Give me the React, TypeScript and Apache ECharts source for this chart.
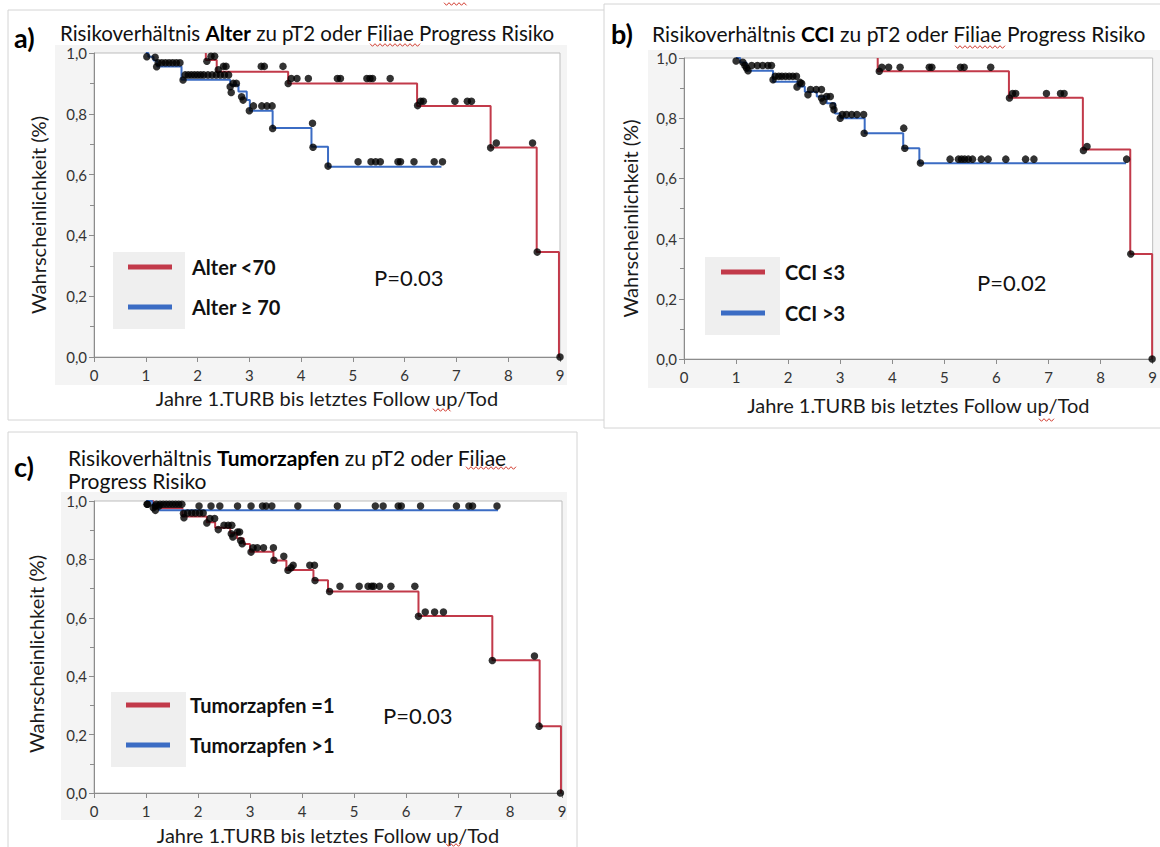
import React, { useEffect, useRef } from "react";
import * as echarts from "echarts";

// ---------- data ----------
// Panel a: Alter
const aRedTimes = [2.16, 2.16, 2.37, 3.75, 6.24, 7.66, 8.55, 8.98];
const aRedSurv = [1.0, 0.977, 0.938, 0.9, 0.826, 0.689, 0.345, 0.0];
const aBlueTimes = [1.0, 1.05, 1.15, 1.22, 1.69, 2.63, 2.79, 2.95, 3.01, 3.45, 4.2, 4.52, 6.71];
const aBlueSurv = [1.0, 0.988, 0.975, 0.956, 0.912, 0.895, 0.873, 0.845, 0.81, 0.753, 0.692, 0.626, 0.626];
const aRedCensT = [2.18, 2.26, 2.33, 2.4, 2.5, 2.55, 3.23, 3.29, 3.65, 3.75, 3.81, 3.92, 4.14, 4.7, 4.76, 5.27, 5.33, 5.38, 5.72, 6.25, 6.31, 6.36, 6.97, 7.21, 7.29, 7.66, 7.77, 8.47, 8.56, 9.0];
const aRedCensS = [0.973, 0.989, 0.989, 0.945, 0.956, 0.956, 0.956, 0.956, 0.956, 0.9, 0.916, 0.916, 0.916, 0.916, 0.916, 0.916, 0.916, 0.916, 0.916, 0.827, 0.841, 0.841, 0.841, 0.841, 0.841, 0.688, 0.704, 0.704, 0.345, 0.0];
const aBlueCensT = [1.02, 1.18, 1.21, 1.24, 1.31, 1.38, 1.45, 1.52, 1.59, 1.66, 1.72, 1.76, 1.82, 1.88, 1.94, 2.0, 2.06, 2.12, 2.2, 2.28, 2.36, 2.44, 2.52, 2.6, 2.63, 2.65, 2.69, 2.75, 2.85, 2.88, 3.0, 3.08, 3.24, 3.34, 3.44, 3.45, 4.22, 4.23, 4.52, 5.1, 5.35, 5.44, 5.53, 5.87, 5.92, 6.18, 6.57, 6.73];
const aBlueCensS = [0.988, 0.986, 0.955, 0.968, 0.968, 0.968, 0.968, 0.968, 0.968, 0.968, 0.911, 0.928, 0.928, 0.928, 0.928, 0.928, 0.928, 0.928, 0.928, 0.928, 0.928, 0.928, 0.928, 0.928, 0.889, 0.87, 0.9, 0.9, 0.856, 0.845, 0.81, 0.826, 0.826, 0.826, 0.826, 0.752, 0.769, 0.69, 0.628, 0.642, 0.642, 0.642, 0.642, 0.642, 0.642, 0.642, 0.642, 0.642];

// Panel b: CCI
const bRedTimes = [3.72, 3.72, 6.24, 7.66, 8.57, 8.99];
const bRedSurv = [1.0, 0.956, 0.868, 0.696, 0.349, 0.0];
const bBlueTimes = [1.0, 1.08, 1.2, 1.71, 2.19, 2.32, 2.55, 2.74, 2.9, 3.0, 3.47, 4.21, 4.52, 8.49];
const bBlueSurv = [1.0, 0.985, 0.958, 0.921, 0.905, 0.888, 0.872, 0.85, 0.816, 0.8, 0.75, 0.7, 0.65, 0.65];
const bRedCensT = [3.75, 3.8, 3.93, 4.15, 4.71, 4.76, 5.31, 5.38, 5.89, 6.25, 6.31, 6.37, 6.96, 7.23, 7.3, 7.67, 7.74, 8.58, 8.99];
const bRedCensS = [0.956, 0.969, 0.969, 0.969, 0.969, 0.969, 0.969, 0.969, 0.969, 0.867, 0.882, 0.882, 0.882, 0.882, 0.882, 0.693, 0.706, 0.349, 0.0];
const bBlueCensT = [1.0, 1.13, 1.17, 1.2, 1.23, 1.3, 1.41, 1.51, 1.61, 1.68, 1.71, 1.75, 1.82, 1.88, 1.95, 2.02, 2.09, 2.16, 2.17, 2.23, 2.26, 2.38, 2.43, 2.54, 2.64, 2.64, 2.67, 2.74, 2.81, 2.86, 2.88, 3.0, 3.04, 3.12, 3.22, 3.32, 3.45, 3.46, 4.22, 4.24, 4.54, 5.11, 5.27, 5.33, 5.39, 5.46, 5.54, 5.71, 5.84, 6.18, 6.56, 6.72, 8.5];
const bBlueCensS = [0.99, 0.986, 0.975, 0.967, 0.958, 0.975, 0.975, 0.975, 0.975, 0.975, 0.928, 0.939, 0.939, 0.939, 0.939, 0.939, 0.939, 0.939, 0.904, 0.919, 0.915, 0.878, 0.895, 0.895, 0.895, 0.867, 0.856, 0.872, 0.872, 0.841, 0.828, 0.8, 0.812, 0.812, 0.812, 0.812, 0.812, 0.75, 0.767, 0.7, 0.651, 0.664, 0.664, 0.664, 0.664, 0.664, 0.664, 0.664, 0.664, 0.664, 0.664, 0.664, 0.664];

// Panel c: Tumorzapfen
const cRedTimes = [1.0, 1.14, 1.7, 2.17, 2.33, 2.62, 2.75, 2.88, 3.0, 3.45, 3.7, 4.22, 4.5, 6.24, 7.66, 8.57, 8.98];
const cRedSurv = [1.0, 0.975, 0.947, 0.927, 0.908, 0.89, 0.872, 0.853, 0.826, 0.796, 0.764, 0.729, 0.69, 0.606, 0.455, 0.229, 0.0];
const cBlueTimes = [1.0, 1.12, 1.25, 7.77];
const cBlueSurv = [1.0, 0.985, 0.968, 0.968];
const cRedCensT = [1.03, 1.14, 1.18, 1.2, 1.27, 1.33, 1.39, 1.45, 1.51, 1.57, 1.63, 1.69, 1.73, 1.72, 1.8, 1.88, 1.95, 2.03, 2.1, 2.17, 2.23, 2.32, 2.39, 2.5, 2.58, 2.65, 2.64, 2.67, 2.76, 2.8, 2.82, 2.85, 3.02, 3.06, 3.14, 3.26, 3.45, 3.46, 3.65, 3.73, 3.79, 3.83, 4.15, 4.24, 4.25, 4.53, 4.73, 5.1, 5.27, 5.34, 5.38, 5.49, 5.71, 6.17, 6.24, 6.37, 6.55, 6.72, 7.66, 8.47, 8.56, 8.97];
const cRedCensS = [0.989, 0.977, 0.968, 0.989, 0.989, 0.989, 0.989, 0.989, 0.989, 0.989, 0.989, 0.989, 0.943, 0.957, 0.959, 0.959, 0.959, 0.959, 0.959, 0.925, 0.94, 0.94, 0.902, 0.917, 0.917, 0.917, 0.888, 0.877, 0.894, 0.894, 0.865, 0.854, 0.825, 0.84, 0.84, 0.84, 0.84, 0.797, 0.811, 0.763, 0.771, 0.78, 0.78, 0.78, 0.728, 0.69, 0.708, 0.708, 0.708, 0.708, 0.708, 0.708, 0.708, 0.708, 0.605, 0.62, 0.62, 0.62, 0.454, 0.469, 0.229, 0.0];
const cBlueCensT = [1.02, 1.18, 1.25, 2.02, 2.25, 2.42, 2.76, 3.02, 3.24, 3.31, 3.42, 3.92, 4.68, 5.41, 5.56, 5.85, 5.91, 6.28, 6.97, 7.21, 7.28, 7.75];
const cBlueCensS = [0.989, 0.983, 0.983, 0.983, 0.983, 0.983, 0.983, 0.983, 0.983, 0.983, 0.983, 0.983, 0.983, 0.983, 0.983, 0.983, 0.983, 0.983, 0.983, 0.983, 0.983, 0.983];

const groupNames = [
  ["Alter <70", "Alter \u2265 70"],
  ["CCI \u22643", "CCI >3"],
  ["Tumorzapfen =1", "Tumorzapfen >1"],
];
const pValues = ["P=0.03", "P=0.02", "P=0.03"];
const panelLetters = ["a)", "b)", "c)"];
const yAxisTitle = "Wahrscheinlichkeit (%)";
const xAxisTitle = "Jahre 1.TURB bis letztes Follow up/Tod";

// ---------- styling / layout ----------
const FONT = "Lato, 'Open Sans', sans-serif";
const RED = "#c23a4a";
const BLUE = "#3b6cc4";
const AXIS = "#8c8c8c";

const zip = (t: number[], s: number[]) => t.map((x, i) => [x, s[i]]);

const layouts = [
  { grid: { left: 94, top: 53, width: 466, height: 304 }, yGap: 46, xGap: 31, yPad: 20,
    legend: { left: 123, top: 251, gap: 18, pad: 15 }, legendBox: [113, 252, 72, 77],
    p: [374, 277], bg: [55, 45, 512, 340], border: [8, 10, 600, 410] },
  { grid: { left: 684, top: 58, width: 469, height: 301 }, yGap: 44, xGap: 36, yPad: 20,
    legend: { left: 716, top: 256, gap: 19, pad: 15 }, legendBox: [705, 257, 75, 78],
    p: [977, 282], bg: [648, 50, 512, 338], border: [604, 4, 560, 424] },
  { grid: { left: 94, top: 501, width: 468, height: 292 }, yGap: 48, xGap: 32, yPad: 14,
    legend: { left: 121, top: 689, gap: 18, pad: 15 }, legendBox: [111, 692, 75, 75],
    p: [383, 715], bg: [61, 492, 506, 328], border: [8, 432, 569, 420] },
];

function squiggle(x0: number, x1: number, y: number) {
  const pts: number[][] = [];
  let up = true;
  for (let x = x0; x <= x1; x += 2.5) {
    pts.push([x, up ? y - 1.3 : y + 1.3]);
    up = !up;
  }
  return {
    type: "polyline",
    z: 20,
    shape: { points: pts },
    style: { stroke: "#d23b2f", lineWidth: 1, fill: null },
  };
}

export default function App() {
  const ref = useRef<HTMLDivElement>(null);

  useEffect(() => {
    if (!ref.current) return;
    const chart = echarts.init(ref.current, null, { renderer: "svg" });

    const kmSets = [
      { red: zip(aRedTimes, aRedSurv), blue: zip(aBlueTimes, aBlueSurv), rc: zip(aRedCensT, aRedCensS), bc: zip(aBlueCensT, aBlueCensS) },
      { red: zip(bRedTimes, bRedSurv), blue: zip(bBlueTimes, bBlueSurv), rc: zip(bRedCensT, bRedCensS), bc: zip(bBlueCensT, bBlueCensS) },
      { red: zip(cRedTimes, cRedSurv), blue: zip(cBlueTimes, cBlueSurv), rc: zip(cRedCensT, cRedCensS), bc: zip(cBlueCensT, cBlueCensS) },
    ];

    const grids = layouts.map((l) => ({
      ...l.grid,
      show: true,
      backgroundColor: "#ffffff",
      borderColor: "#bdbdbd",
      borderWidth: 1,
      containLabel: false,
    }));

    const xAxes = layouts.map((l, i) => ({
      type: "value",
      gridIndex: i,
      min: 0,
      max: 9,
      interval: 1,
      name: xAxisTitle,
      nameLocation: "middle",
      nameGap: l.xGap,
      nameTextStyle: { fontFamily: FONT, fontSize: 20, color: "#1a1a1a" },
      axisLine: { show: true, lineStyle: { color: AXIS, width: 1 } },
      axisTick: { show: true, length: 5, lineStyle: { color: AXIS } },
      axisLabel: { fontFamily: FONT, fontSize: 15, color: "#333", margin: 10 },
      splitLine: { show: false },
    }));

    const yAxes = layouts.map((l, i) => ({
      type: "value",
      gridIndex: i,
      min: 0,
      max: 1,
      interval: 0.2,
      name: yAxisTitle,
      nameLocation: "middle",
      nameGap: l.yGap,
      nameTextStyle: { fontFamily: FONT, fontSize: 20, color: "#1a1a1a", padding: [0, l.yPad, 0, 0] },
      axisLine: { show: true, lineStyle: { color: AXIS, width: 1 } },
      axisTick: { show: true, length: 5, lineStyle: { color: AXIS } },
      minorTick: { show: true, splitNumber: 2, length: 4, lineStyle: { color: AXIS } },
      axisLabel: {
        fontFamily: FONT,
        fontSize: 15,
        color: "#333",
        margin: 7,
        formatter: (v: number) => v.toFixed(1).replace(".", ","),
      },
      splitLine: { show: false },
    }));

    const series: any[] = [];
    kmSets.forEach((k, i) => {
      series.push({
        type: "line", name: groupNames[i][0], xAxisIndex: i, yAxisIndex: i, data: k.red,
        step: "end", symbol: "none", showSymbol: false, z: 2,
        lineStyle: { color: RED, width: 2 }, itemStyle: { color: RED },
      });
      series.push({
        type: "line", name: groupNames[i][1], xAxisIndex: i, yAxisIndex: i, data: k.blue,
        step: "end", symbol: "none", showSymbol: false, z: 2,
        lineStyle: { color: BLUE, width: 2 }, itemStyle: { color: BLUE },
      });
      series.push({
        type: "scatter", name: "zensiert " + groupNames[i][0], xAxisIndex: i, yAxisIndex: i, data: k.rc,
        symbolSize: 7.5, itemStyle: { color: "#000" }, z: 3,
      });
      series.push({
        type: "scatter", name: "zensiert " + groupNames[i][1], xAxisIndex: i, yAxisIndex: i, data: k.bc,
        symbolSize: 7.5, itemStyle: { color: "#000" }, z: 3,
      });
    });

    const legends = layouts.map((l, i) => ({
      data: groupNames[i],
      orient: "vertical",
      left: l.legend.left,
      top: l.legend.top,
      itemWidth: 44,
      itemHeight: 5,
      itemGap: l.legend.gap,
      icon: "rect",
      textStyle: {
        fontFamily: FONT, fontSize: 20, fontWeight: "bold", color: "#111",
        lineHeight: 22, padding: [0, 0, 0, l.legend.pad],
      },
    }));

    const graphic: any[] = [];
    layouts.forEach((l, i) => {
      graphic.push({
        type: "rect", z: -10,
        shape: { x: l.border[0], y: l.border[1], width: l.border[2], height: l.border[3] },
        style: { fill: "#ffffff", stroke: "#d4d4d4", lineWidth: 1 },
      });
      graphic.push({
        type: "rect", z: -5,
        shape: { x: l.bg[0], y: l.bg[1], width: l.bg[2], height: l.bg[3] },
        style: { fill: "#f4f4f4" },
      });
      graphic.push({
        type: "rect", z: 1,
        shape: { x: l.legendBox[0], y: l.legendBox[1], width: l.legendBox[2], height: l.legendBox[3] },
        style: { fill: "#efefef" },
      });
      graphic.push({
        type: "text", z: 10, x: l.p[0], y: l.p[1],
        style: { text: pValues[i], fontFamily: FONT, fontSize: 22, fill: "#111", verticalAlign: "middle" },
      });
    });

    // Panel letters
    const letterPos = [[14, 37], [611, 33], [14, 466]];
    letterPos.forEach((p, i) => {
      graphic.push({
        type: "text", z: 10, x: p[0], y: p[1],
        style: { text: panelLetters[i], fontFamily: FONT, fontSize: 27, fontWeight: "bold", fill: "#000", verticalAlign: "middle" },
      });
    });

    const rich = (fs: number) => ({
      r: { fontFamily: FONT, fontSize: fs, fill: "#111" },
      b: { fontFamily: FONT, fontSize: fs, fontWeight: "bold", fill: "#000" },
    });
    const titles = [
      { x: 60, y: 33, fs: 20.5, text: "{r|Risikoverhältnis }{b|Alter}{r| zu pT2 oder Filiae Progress Risiko}" },
      { x: 652, y: 33, fs: 21, text: "{r|Risikoverhältnis }{b|CCI}{r| zu pT2 oder Filiae Progress Risiko}" },
      { x: 68, y: 457, fs: 21, text: "{r|Risikoverhältnis }{b|Tumorzapfen}{r| zu pT2 oder Filiae}" },
      { x: 68, y: 480, fs: 21, text: "{r|Progress Risiko}" },
    ];
    titles.forEach((t) => {
      graphic.push({
        type: "text", z: 10, x: t.x, y: t.y,
        style: { text: t.text, rich: rich(t.fs), fontFamily: FONT, fontSize: t.fs, fill: "#111", verticalAlign: "middle" },
      });
    });

    // spell-check squiggles (decoration)
    graphic.push(squiggle(370, 420, 45));
    graphic.push(squiggle(955, 1007, 47));
    graphic.push(squiggle(466, 516, 468));
    graphic.push(squiggle(433, 451, 410));
    graphic.push(squiggle(1039, 1056, 420));
    graphic.push(squiggle(446, 462, 845));
    graphic.push(squiggle(444, 467, 4));

    chart.setOption({
      animation: false,
      backgroundColor: "#ffffff",
      textStyle: { fontFamily: FONT },
      grid: grids,
      xAxis: xAxes,
      yAxis: yAxes,
      legend: legends,
      series,
      graphic,
    });

    return () => chart.dispose();
  }, []);

  return (
    <div
      ref={ref}
      style={{ position: "absolute", left: 0, top: 0, width: 1160, height: 847 }}
    />
  );
}
